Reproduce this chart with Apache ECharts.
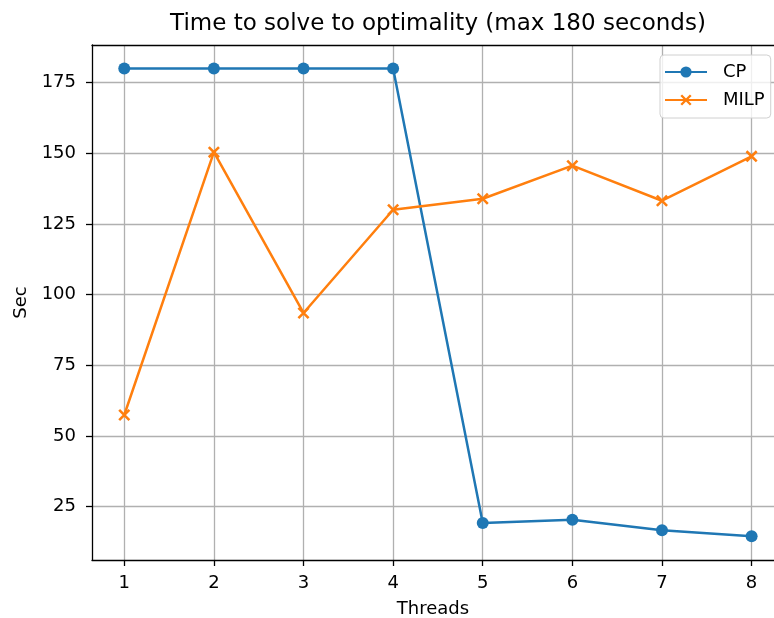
<!DOCTYPE html>
<html>
<head>
<meta charset="utf-8">
<script src="https://cdn.jsdelivr.net/npm/echarts@6/dist/echarts.min.js"></script>
<style>html,body{margin:0;padding:0;background:#fff}#c{width:774px;height:618px}</style>
</head>
<body>
<div id="c"></div>
<script>
const threads = [1, 2, 3, 4, 5, 6, 7, 8];
const cpSec = [180, 180, 180, 180, 19.2, 20.3, 16.6, 14.5];
const milpSec = [57.4, 150.4, 93.5, 130.0, 133.9, 145.6, 133.2, 148.9];
const yTicks = [25, 50, 75, 100, 125, 150, 175];
const xTicks = [1, 2, 3, 4, 5, 6, 7, 8];

const FONT = 'DejaVu Sans';
const xSym = 'path://M0,1.5L1.5,0L10,8.5L8.5,10ZM8.5,0L10,1.5L1.5,10L0,8.5Z';
const XMIN = 0.64, XMAX = 8.25;

const chart = echarts.init(document.getElementById('c'), null, {renderer: 'canvas'});
chart.setOption({
  animation: false,
  backgroundColor: '#fff',
  textStyle: {fontFamily: FONT},
  title: {
    text: 'Time to solve to optimality (max 180 seconds)',
    left: 433, top: 8, textAlign: 'center',
    textStyle: {fontFamily: FONT, fontSize: 23, fontWeight: 'normal', color: '#000'}
  },
  legend: {
    orient: 'vertical',
    left: 660, top: 55,
    padding: [7, 6, 8, 4],
    itemWidth: 42, itemHeight: 14, itemGap: 8,
    backgroundColor: 'rgba(255,255,255,0.8)',
    borderColor: '#d0d0d0', borderWidth: 1, borderRadius: 4,
    textStyle: {fontFamily: FONT, fontSize: 18, lineHeight: 20, color: '#000', padding: [0, 0, 0, 11]},
    data: ['CP', 'MILP']
  },
  grid: {left: 92, right: 0, top: 45, bottom: 58, containLabel: false, outerBoundsMode: 'none'},
  xAxis: [{
    type: 'value', min: XMIN, max: XMAX,
    name: 'Threads', nameLocation: 'middle', nameGap: 40,
    nameTextStyle: {fontFamily: FONT, fontSize: 18, color: '#000'},
    axisLine: {show: true, onZero: false, lineStyle: {color: '#000', width: 1.3}},
    axisTick: {show: true, length: 6, inside: false, customValues: xTicks, lineStyle: {color: '#000', width: 1.3}},
    axisLabel: {customValues: xTicks, margin: 14, fontFamily: FONT, fontSize: 18, color: '#000'},
    splitLine: {show: true, lineStyle: {color: '#b0b0b0', width: 1.3}}
  }, {
    type: 'value', position: 'top', min: XMIN, max: XMAX,
    axisLine: {show: true, onZero: false, lineStyle: {color: '#000', width: 1.3}},
    axisTick: {show: false}, axisLabel: {show: false}, splitLine: {show: false}
  }],
  yAxis: {
    type: 'value', min: 6.1, max: 188.3,
    name: 'Sec', nameLocation: 'middle', nameGap: 60, nameRotate: 90,
    nameTextStyle: {fontFamily: FONT, fontSize: 18, color: '#000'},
    axisLine: {show: true, onZero: false, lineStyle: {color: '#000', width: 1.3}},
    axisTick: {show: true, length: 6, customValues: yTicks, lineStyle: {color: '#000', width: 1.3}},
    axisLabel: {customValues: yTicks, margin: 16, fontFamily: FONT, fontSize: 18, color: '#000'},
    splitLine: {show: true, lineStyle: {color: '#b0b0b0', width: 1.3}}
  },
  series: [
    {
      name: 'CP', type: 'line',
      data: threads.map((t, i) => [t, cpSec[i]]),
      symbol: 'circle', symbolSize: 12, showSymbol: true,
      lineStyle: {color: '#1f77b4', width: 2.5},
      itemStyle: {color: '#1f77b4', borderWidth: 0},
      z: 3
    },
    {
      name: 'MILP', type: 'line',
      data: threads.map((t, i) => [t, milpSec[i]]),
      symbol: xSym, symbolSize: 12, showSymbol: true,
      lineStyle: {color: '#ff7f0e', width: 2.5},
      itemStyle: {color: '#ff7f0e', borderWidth: 0},
      z: 4
    }
  ]
});
</script>
</body>
</html>
